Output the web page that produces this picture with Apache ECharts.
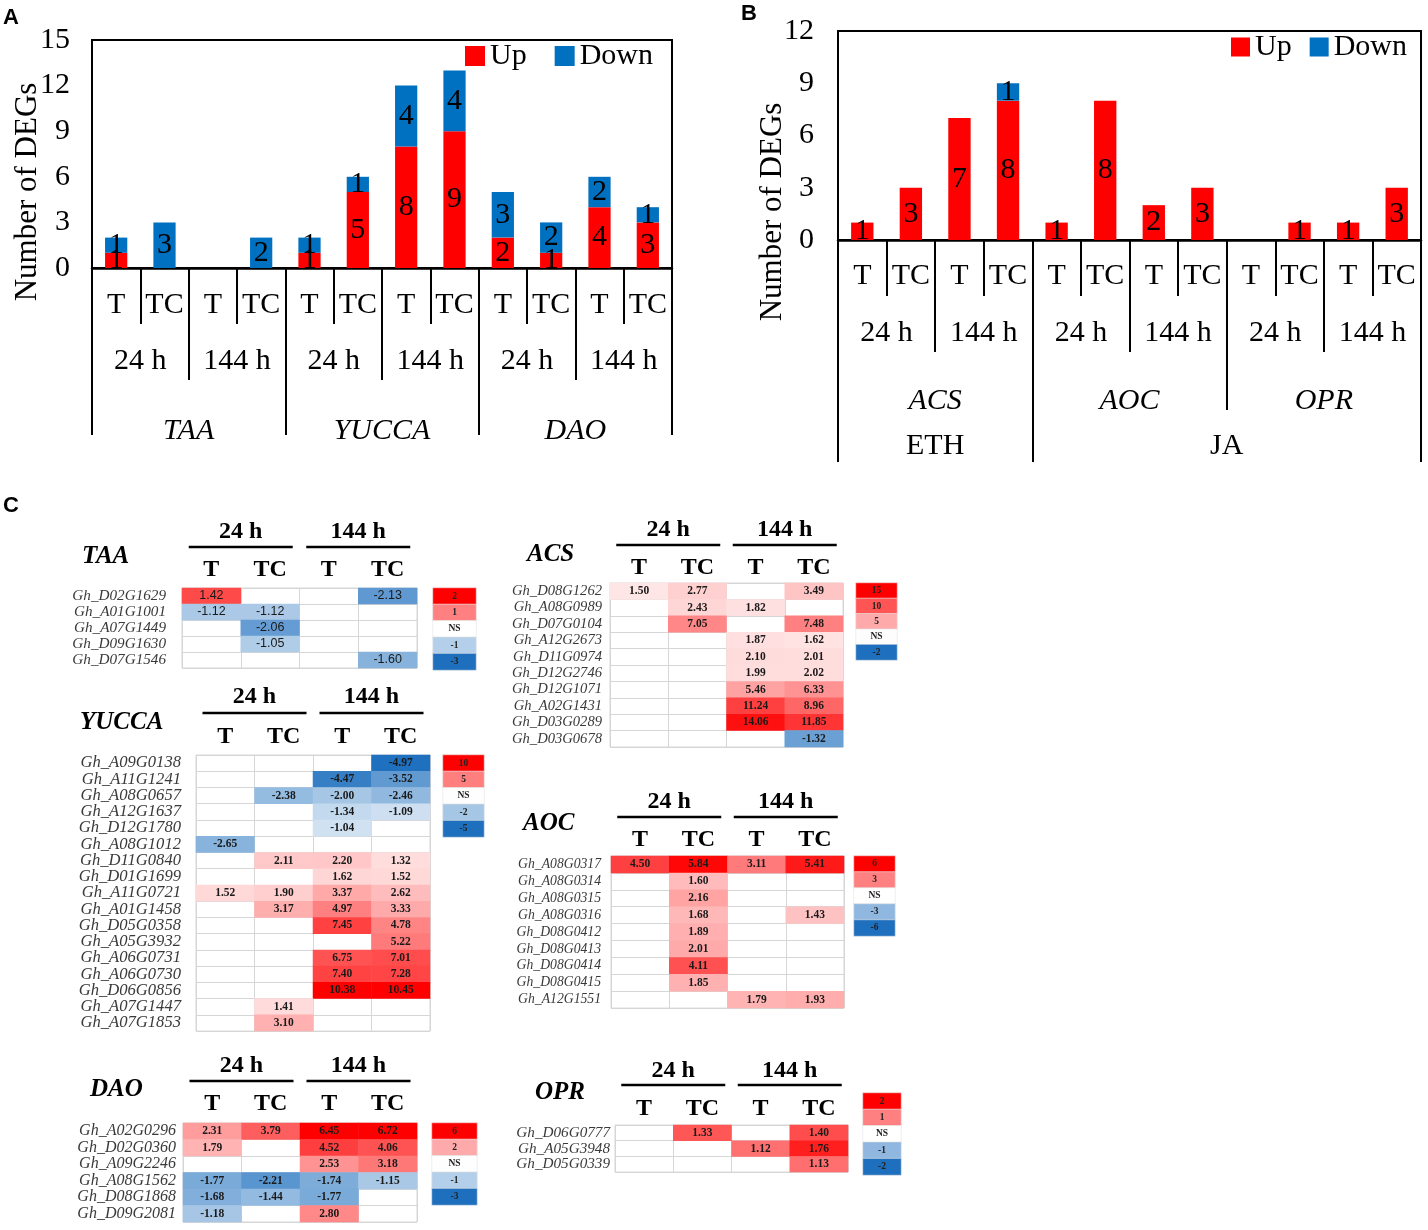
<!DOCTYPE html>
<html>
<head>
<meta charset="utf-8">
<script src="https://cdn.jsdelivr.net/npm/echarts@6.0.0/dist/echarts.min.js"></script>
<style>
html, body { margin: 0; padding: 0; background: #fff; }
#main { width: 1428px; height: 1230px; }
</style>
</head>
<body>
<div id="main"></div>
<script>
// ---------- panel A : auxin genes ----------
var aSamples = ['T', 'TC', 'T', 'TC', 'T', 'TC', 'T', 'TC', 'T', 'TC', 'T', 'TC'];
var aTimes = ['24 h', '144 h', '24 h', '144 h', '24 h', '144 h'];
var aGenes = ['TAA', 'YUCCA', 'DAO'];
var aUp = [1, 0, 0, 0, 1, 5, 8, 9, 2, 1, 4, 3];
var aDown = [1, 3, 0, 2, 1, 1, 4, 4, 3, 2, 2, 1];

// ---------- panel B : ETH / JA genes ----------
var bSamples = ['T', 'TC', 'T', 'TC', 'T', 'TC', 'T', 'TC', 'T', 'TC', 'T', 'TC'];
var bTimes = ['24 h', '144 h', '24 h', '144 h', '24 h', '144 h'];
var bGenes = ['ACS', 'AOC', 'OPR'];
var bHormones = ['ETH', 'JA'];
var bHormoneSpan = [4, 8];
var bUp = [1, 3, 7, 8, 1, 8, 2, 3, 0, 1, 1, 3];
var bDown = [0, 0, 0, 1, 0, 0, 0, 0, 0, 0, 0, 0];

// ---------- panel C : heatmaps (log2 fold change, null = NS) ----------
var hmCols = ['T', 'TC', 'T', 'TC'];
var hmTimes = ['24 h', '144 h'];

var taaGenes = ['Gh_D02G1629', 'Gh_A01G1001', 'Gh_A07G1449', 'Gh_D09G1630', 'Gh_D07G1546'];
var taaValues = [
  [1.42, null, null, -2.13],
  [-1.12, -1.12, null, null],
  [null, -2.06, null, null],
  [null, -1.05, null, null],
  [null, null, null, -1.60]
];
var taaLegend = [2, 1, 0, -1, -3];
var taaLegendText = ['2', '1', 'NS', '-1', '-3'];

var yuccaGenes = ['Gh_A09G0138', 'Gh_A11G1241', 'Gh_A08G0657', 'Gh_A12G1637', 'Gh_D12G1780', 'Gh_A08G1012',
  'Gh_D11G0840', 'Gh_D01G1699', 'Gh_A11G0721', 'Gh_A01G1458', 'Gh_D05G0358', 'Gh_A05G3932',
  'Gh_A06G0731', 'Gh_A06G0730', 'Gh_D06G0856', 'Gh_A07G1447', 'Gh_A07G1853'];
var yuccaValues = [
  [null, null, null, -4.97],
  [null, null, -4.47, -3.52],
  [null, -2.38, -2.00, -2.46],
  [null, null, -1.34, -1.09],
  [null, null, -1.04, null],
  [-2.65, null, null, null],
  [null, 2.11, 2.20, 1.32],
  [null, null, 1.62, 1.52],
  [1.52, 1.90, 3.37, 2.62],
  [null, 3.17, 4.97, 3.33],
  [null, null, 7.45, 4.78],
  [null, null, null, 5.22],
  [null, null, 6.75, 7.01],
  [null, null, 7.40, 7.28],
  [null, null, 10.38, 10.45],
  [null, 1.41, null, null],
  [null, 3.10, null, null]
];
var yuccaLegend = [10, 5, 0, -2, -5];
var yuccaLegendText = ['10', '5', 'NS', '-2', '-5'];

var daoGenes = ['Gh_A02G0296', 'Gh_D02G0360', 'Gh_A09G2246', 'Gh_A08G1562', 'Gh_D08G1868', 'Gh_D09G2081'];
var daoValues = [
  [2.31, 3.79, 6.45, 6.72],
  [1.79, null, 4.52, 4.06],
  [null, null, 2.53, 3.18],
  [-1.77, -2.21, -1.74, -1.15],
  [-1.68, -1.44, -1.77, null],
  [-1.18, null, 2.80, null]
];
var daoLegend = [6, 2, 0, -1, -3];
var daoLegendText = ['6', '2', 'NS', '-1', '-3'];

var acsGenes = ['Gh_D08G1262', 'Gh_A08G0989', 'Gh_D07G0104', 'Gh_A12G2673', 'Gh_D11G0974',
  'Gh_D12G2746', 'Gh_D12G1071', 'Gh_A02G1431', 'Gh_D03G0289', 'Gh_D03G0678'];
var acsValues = [
  [1.50, 2.77, null, 3.49],
  [null, 2.43, 1.82, null],
  [null, 7.05, null, 7.48],
  [null, null, 1.87, 1.62],
  [null, null, 2.10, 2.01],
  [null, null, 1.99, 2.02],
  [null, null, 5.46, 6.33],
  [null, null, 11.24, 8.96],
  [null, null, 14.06, 11.85],
  [null, null, null, -1.32]
];
var acsLegend = [15, 10, 5, 0, -2];
var acsLegendText = ['15', '10', '5', 'NS', '-2'];

var aocGenes = ['Gh_A08G0317', 'Gh_A08G0314', 'Gh_A08G0315', 'Gh_A08G0316', 'Gh_D08G0412',
  'Gh_D08G0413', 'Gh_D08G0414', 'Gh_D08G0415', 'Gh_A12G1551'];
var aocValues = [
  [4.50, 5.84, 3.11, 5.41],
  [null, 1.60, null, null],
  [null, 2.16, null, null],
  [null, 1.68, null, 1.43],
  [null, 1.89, null, null],
  [null, 2.01, null, null],
  [null, 4.11, null, null],
  [null, 1.85, null, null],
  [null, null, 1.79, 1.93]
];
var aocLegend = [6, 3, 0, -3, -6];
var aocLegendText = ['6', '3', 'NS', '-3', '-6'];

var oprGenes = ['Gh_D06G0777', 'Gh_A05G3948', 'Gh_D05G0339'];
var oprValues = [
  [null, 1.33, null, 1.40],
  [null, null, 1.12, 1.76],
  [null, null, null, 1.13]
];
var oprLegend = [2, 1, 0, -1, -2];
var oprLegendText = ['2', '1', 'NS', '-1', '-2'];

// ---------- styling ----------
var SERIF = "Liberation Serif";
var SANS = "Liberation Sans";
var RED = [255, 0, 0], BLUE = [30, 111, 190];

var grids = [], xAxes = [], yAxes = [], series = [], visualMaps = [], graphics = [];

// x-axis labels go through a rich style so the serif face is kept
function richLabel(base, style, lookup) {
  base.formatter = function (v) {
    var t = lookup ? lookup(v) : v;
    return t === '' ? '' : '{t|' + t + '}';
  };
  base.rich = { t: style };
  return base;
}

// one bracket level of the Excel-like multi-level category axis
function levelAxis(gi, total, labels, spans, tickLen, margin, italic) {
  var bounds = [0], centers = [], pos = 0;
  labels.forEach(function (l, i) {
    centers.push(pos + spans[i] / 2);
    pos += spans[i];
    bounds.push(pos);
  });
  return {
    type: 'value', gridIndex: gi, position: 'bottom', min: 0, max: total,
    axisLine: { show: false }, splitLine: { show: false },
    axisTick: { show: true, customValues: bounds, length: tickLen, lineStyle: { color: '#000', width: 2 } },
    axisLabel: richLabel({ customValues: centers, margin: margin, fontFamily: SERIF, fontSize: 30, color: '#000' },
      { fontFamily: SERIF, fontSize: 30, color: '#000', fontStyle: italic ? 'italic' : 'normal' },
      function (v) { var i = centers.indexOf(v); return i >= 0 ? labels[i] : ''; })
  };
}

function repeatSpan(labels, n) { return labels.map(function () { return n; }); }

function barPanel(p) {
  var gi = grids.length;
  grids.push({ left: p.left, top: p.top, width: p.width, height: p.height, show: true,
    borderColor: '#000', borderWidth: 2, backgroundColor: 'transparent' });
  var xi = xAxes.length;
  xAxes.push({
    type: 'category', gridIndex: gi, position: 'bottom', data: p.samples,
    axisLine: { show: true, lineStyle: { color: '#000', width: 2.5 } },
    axisTick: { show: true, interval: 0, length: p.tickLens[0], lineStyle: { color: '#000', width: 2 } },
    axisLabel: richLabel({ interval: 0, margin: p.margins[0], fontFamily: SERIF, fontSize: 30, color: '#000' },
      { fontFamily: SERIF, fontSize: 30, color: '#000' }),
    splitLine: { show: false }
  });
  p.levels.forEach(function (lv, k) {
    xAxes.push(levelAxis(gi, p.samples.length, lv.labels, lv.spans, p.tickLens[k + 1], p.margins[k + 1], lv.italic));
  });
  var yi = yAxes.length;
  yAxes.push({
    type: 'value', gridIndex: gi, min: 0, max: p.max, interval: 3,
    axisLine: { show: true, lineStyle: { color: '#000', width: 2 } },
    axisTick: { show: false }, splitLine: { show: false },
    axisLabel: { margin: p.yMargin, fontFamily: SERIF, fontSize: 30, color: '#000' }
  });
  [['Up', p.up, '#ff0000'], ['Down', p.down, '#0070c0']].forEach(function (s) {
    series.push({
      type: 'bar', name: s[0], xAxisIndex: xi, yAxisIndex: yi, stack: 'deg' + gi,
      data: s[1], barWidth: '46%', itemStyle: { color: s[2] },
      emphasis: { disabled: true },
      label: {
        show: true, position: 'inside', color: '#000', fontFamily: SERIF, fontSize: 30,
        textBorderWidth: 0,
        formatter: function (q) { return q.value ? String(q.value) : ''; }
      }
    });
  });
  graphics.push({
    type: 'text', x: p.nameX, y: p.nameY, rotation: Math.PI / 2,
    style: { text: 'Number of DEGs', font: '31px "' + SERIF + '"', fill: '#000', align: 'center', verticalAlign: 'middle' }
  });
}

function mix(t, c) {
  return 'rgb(' + [0, 1, 2].map(function (i) { return Math.round(255 + (c[i] - 255) * t); }).join(',') + ')';
}

function heatBlock(name, genes, values, legVals, legText, L) {
  var ncol = hmCols.length, w = L.cw * ncol, h = L.rh * genes.length;
  var head = { fontFamily: SERIF, fontWeight: 'bold', fontSize: 24, color: '#000' };
  var gi = grids.length;
  grids.push({ left: L.x, top: L.y, width: w, height: h, show: true, borderColor: '#d6d6d6', borderWidth: 1 });
  var xi = xAxes.length;
  xAxes.push({
    type: 'category', gridIndex: gi, position: 'top', data: hmCols,
    axisLine: { show: false }, axisTick: { show: false },
    splitLine: { show: true, interval: 0, lineStyle: { color: '#d6d6d6', width: 1 } },
    axisLabel: richLabel({ interval: 0, margin: L.y - L.colY - 12, fontFamily: SERIF, fontWeight: 'bold', fontSize: 24 }, head)
  });
  xAxes.push({
    type: 'category', gridIndex: gi, position: 'top', data: hmTimes,
    axisLine: { show: false }, axisTick: { show: false }, splitLine: { show: false },
    axisLabel: richLabel({ interval: 0, margin: L.y - L.timeY - 12, fontFamily: SERIF, fontWeight: 'bold', fontSize: 24 }, head)
  });
  var yi = yAxes.length;
  yAxes.push({
    type: 'category', gridIndex: gi, data: genes, inverse: true,
    axisLine: { show: false }, axisTick: { show: false },
    splitLine: { show: true, interval: 0, lineStyle: { color: '#d6d6d6', width: 1 } },
    axisLabel: { interval: 0, margin: L.gap, fontFamily: SERIF, fontStyle: 'italic', fontSize: L.geneFont, color: '#3a3a3a' }
  });
  var data = [], dmin = 0, dmax = 0;
  values.forEach(function (row, r) {
    row.forEach(function (v, c) {
      if (v !== null) { data.push([c, r, v]); dmin = Math.min(dmin, v); dmax = Math.max(dmax, v); }
    });
  });
  var si = series.length;
  series.push({
    type: 'heatmap', xAxisIndex: xi, yAxisIndex: yi, data: data,
    emphasis: { disabled: true },
    label: {
      show: true, color: '#1a1a1a',
      fontFamily: L.sans ? SANS : SERIF, fontWeight: L.sans ? 'normal' : 'bold', fontSize: L.valFont,
      formatter: function (q) { return q.value[2].toFixed(2); }
    }
  });

  // colour key drawn as a one-column heatmap
  var lg = grids.length;
  grids.push({ left: L.lx, top: L.ly, width: L.lw, height: L.lh * legVals.length });
  var lxi = xAxes.length;
  xAxes.push({ type: 'category', gridIndex: lg, data: [''], show: false });
  var lyi = yAxes.length;
  yAxes.push({ type: 'category', gridIndex: lg, data: legText, inverse: true, show: false });
  var li = series.length;
  series.push({
    type: 'heatmap', xAxisIndex: lxi, yAxisIndex: lyi,
    data: legVals.map(function (v, i) { return [0, i, v]; }),
    emphasis: { disabled: true },
    itemStyle: { borderColor: '#e4e4e4', borderWidth: 0.6 },
    label: {
      show: true, color: '#222', fontFamily: SERIF, fontWeight: 'bold', fontSize: 9.5,
      formatter: function (q) { return legText[q.value[1]]; }
    }
  });

  var legMax = Math.max.apply(null, legVals), legMin = Math.min.apply(null, legVals);
  var lo = Math.min(legMin, dmin), hi = Math.max(legMax, dmax), stops = [];
  for (var k = 0; k <= 200; k++) {
    var v = lo + (hi - lo) * k / 200;
    stops.push(v >= 0 ? mix(Math.min(v / legMax, 1), RED) : mix(Math.min(v / legMin, 1), BLUE));
  }
  visualMaps.push({ type: 'continuous', show: false, seriesIndex: [si, li], dimension: 2, min: lo, max: hi, inRange: { color: stops } });

  graphics.push({
    type: 'text', x: L.fx, y: L.fy,
    style: { text: name, font: 'italic bold 25px "' + SERIF + '"', fill: '#000', verticalAlign: 'middle' }
  });
  [1, 3].forEach(function (c) {
    var cx = L.x + L.cw * c;
    graphics.push({ type: 'line', shape: { x1: cx - 52, y1: L.lineY, x2: cx + 52, y2: L.lineY },
      style: { stroke: '#000', lineWidth: 2.5 } });
  });
}

barPanel({
  left: 92, top: 40, width: 580, height: 228, max: 15, yMargin: 22,
  samples: aSamples, up: aUp, down: aDown,
  levels: [
    { labels: aTimes, spans: repeatSpan(aTimes, 2) },
    { labels: aGenes, spans: repeatSpan(aGenes, 4), italic: true }
  ],
  tickLens: [56, 112, 167], margins: [22, 78, 148],
  nameX: 28, nameY: 192
});

barPanel({
  left: 838, top: 31, width: 583, height: 209, max: 12, yMargin: 24,
  samples: bSamples, up: bUp, down: bDown,
  levels: [
    { labels: bTimes, spans: repeatSpan(bTimes, 2) },
    { labels: bGenes, spans: repeatSpan(bGenes, 4), italic: true },
    { labels: bHormones, spans: bHormoneSpan }
  ],
  tickLens: [56, 112, 170, 222], margins: [21, 78, 146, 191],
  nameX: 773, nameY: 212
});

heatBlock('TAA', taaGenes, taaValues, taaLegend, taaLegendText,
  { x: 182, y: 588, cw: 58.75, rh: 16, colY: 570, timeY: 532, lineY: 547, fx: 82, fy: 557,
    gap: 16, geneFont: 15.2, valFont: 12.5, sans: true, lx: 433, ly: 588, lw: 43, lh: 16.4 });
heatBlock('YUCCA', yuccaGenes, yuccaValues, yuccaLegend, yuccaLegendText,
  { x: 196, y: 755, cw: 58.5, rh: 16.24, colY: 737, timeY: 697, lineY: 713, fx: 80, fy: 723,
    gap: 15, geneFont: 16.6, valFont: 11.5, lx: 443, ly: 755, lw: 41, lh: 16.4 });
heatBlock('DAO', daoGenes, daoValues, daoLegend, daoLegendText,
  { x: 183, y: 1123, cw: 58.5, rh: 16.5, colY: 1104, timeY: 1066, lineY: 1081, fx: 90, fy: 1090,
    gap: 7, geneFont: 16, valFont: 11.5, lx: 432, ly: 1123, lw: 45, lh: 16.4 });
heatBlock('ACS', acsGenes, acsValues, acsLegend, acsLegendText,
  { x: 610, y: 583, cw: 58.25, rh: 16.4, colY: 568, timeY: 530, lineY: 545, fx: 527, fy: 555,
    gap: 8, geneFont: 14.6, valFont: 11.5, lx: 856, ly: 583, lw: 41, lh: 15.4 });
heatBlock('AOC', aocGenes, aocValues, aocLegend, aocLegendText,
  { x: 611, y: 856, cw: 58.25, rh: 16.9, colY: 840, timeY: 802, lineY: 817, fx: 523, fy: 824,
    gap: 10, geneFont: 13.7, valFont: 11.5, lx: 854, ly: 856, lw: 41, lh: 16 });
heatBlock('OPR', oprGenes, oprValues, oprLegend, oprLegendText,
  { x: 615, y: 1125, cw: 58.25, rh: 15.7, colY: 1109, timeY: 1071, lineY: 1085, fx: 535, fy: 1093,
    gap: 5, geneFont: 15.2, valFont: 11.5, lx: 863, ly: 1093, lw: 38, lh: 16.4 });

// panel letters
[['A', 3, 18], ['B', 741, 14], ['C', 3, 506]].forEach(function (t) {
  graphics.push({ type: 'text', x: t[1], y: t[2],
    style: { text: t[0], font: 'bold 22px "' + SANS + '"', fill: '#000', verticalAlign: 'middle' } });
});

var legendStyle = { fontFamily: SERIF, fontSize: 30, color: '#000' };
var chart = echarts.init(document.getElementById('main'));
chart.setOption({
  animation: false,
  backgroundColor: '#fff',
  textStyle: { fontFamily: SERIF },
  legend: [
    { left: 460, top: 36, icon: 'rect', itemWidth: 20, itemHeight: 20, itemGap: 28, textStyle: legendStyle, data: ['Up', 'Down'] },
    { left: 1226, top: 27, icon: 'rect', itemWidth: 19, itemHeight: 19, itemGap: 18, textStyle: legendStyle, data: ['Up', 'Down'] }
  ],
  grid: grids,
  xAxis: xAxes,
  yAxis: yAxes,
  visualMap: visualMaps,
  series: series,
  graphic: graphics
});
</script>
</body>
</html>
